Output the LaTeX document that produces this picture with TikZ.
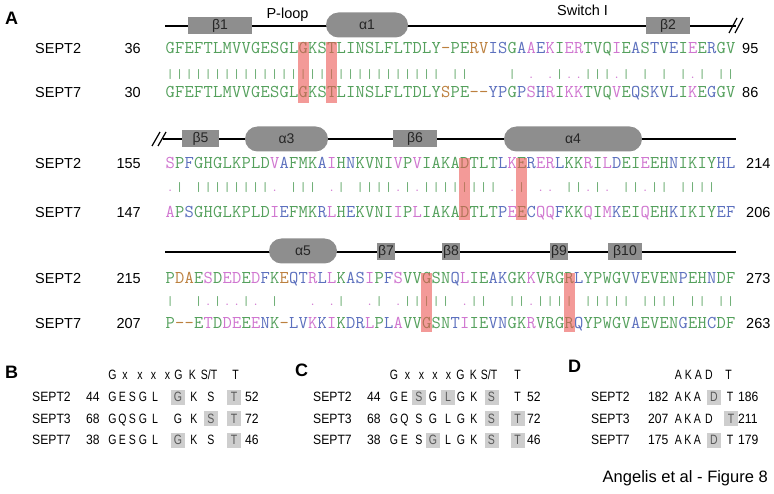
\documentclass[tikz,border=0pt]{standalone}
\usepackage{fontspec}
\usepackage{graphicx}
\setmainfont{Liberation Sans}
\definecolor{sqg}{RGB}{84,160,92}
\definecolor{sqb}{RGB}{92,112,190}
\definecolor{sqp}{RGB}{208,118,208}
\definecolor{sqo}{RGB}{188,128,62}
\definecolor{boxgray}{RGB}{142,142,142}
\definecolor{hlgray}{RGB}{206,206,206}
\definecolor{hlred}{RGB}{236,88,84}
\newlength\SQpitch
\setlength\SQpitch{9.5pt}
\newcommand\SQfont{\ttfamily\fontsize{18}{18}\selectfont}
\newcommand\MQfont{\ttfamily\fontsize{13}{13}\selectfont}
\newcommand\nar[1]{\scalebox{0.78}[1]{#1}}
\newcommand\narl[1]{\scalebox{0.9}[1]{#1}}
\def\SQrow#1#2{\SQstep#1\SQend#2\SQend}
\def\SQstep#1#2\SQend#3#4\SQend{\makebox[\SQpitch][c]{\textcolor{sq#1}{#3}}\ifx\relax#2\relax\else\SQstep#2\SQend#4\SQend\fi}
\def\MQrow#1{\MQstep#1\SQend}
\def\MQstep#1#2\SQend{\makebox[\SQpitch][c]{\csname mq#1\endcsname}\ifx\relax#2\relax\else\MQstep#2\SQend\fi}
\def\mqg{\textcolor{sqg}{|}}
\def\mqp{\textcolor{sqp}{.}}
\def\mqb{}
\def\mqo{}
\newcommand\PRow[3]{\foreach \x/\c/\h [count=\k] in {#3} {\ifnum\h=1 \fill[hlgray] ({\x-7},{#2-7.5}) rectangle ({\x+7},{#2+7.5});\fi
  \node[sm, hl\h, name=#1\k] at (\x,{#2+4.8}) {\nar{\c}};}}
\begin{document}
\begin{tikzpicture}[x=1pt,y=-1pt,
  lbl/.style={font=\fontsize{14.5}{16}\selectfont, inner sep=0},
  sm/.style={font=\fontsize{13.5}{15}\selectfont, inner sep=0, anchor=base},
  plab/.style={font=\fontsize{18}{20}\selectfont\bfseries, inner sep=0, anchor=base west},
  sline/.style={line width=1.2pt, black},
  bbox/.style={fill=boxgray, inner sep=0, minimum height=17pt, font=\fontsize{14}{16}\selectfont, text=black!85},
  abox/.style={fill=boxgray, inner sep=0, minimum height=25pt, rounded corners=12.5pt, font=\fontsize{14}{16}\selectfont, text=black!85},
  seqrow/.style={inner sep=0, anchor=base west, font=\SQfont},
  matrow/.style={inner sep=0, anchor=base west, font=\MQfont},
  redhl/.style={fill=hlred, opacity=0.6},
  hl0/.style={},
  hl1/.style={text=black!65},
]
\useasboundingbox (0,0) rectangle (774,494);
\fill[white] (0,0) rectangle (774,494);

% ---------- panel labels
\node[plab] (pA) at (5,25) {A};
\node[plab] (pB) at (5,378) {B};
\node[plab] (pC) at (295,377) {C};
\node[plab] (pD) at (568,373) {D};

% ---------- structure row 1
\coordinate (a1s) at (165,26); \coordinate (a1e) at (736,26);
\draw[sline] (a1s) -- (a1e);
\coordinate (k1a) at (729,33); \coordinate (k1b) at (737,18);
\coordinate (k1c) at (735,33); \coordinate (k1d) at (743,18);
\draw[sline] (k1a) -- (k1b); \draw[sline] (k1c) -- (k1d);
\node[bbox, minimum width=64pt] (b1) at (220,25.5) {β1};
\node[abox, minimum width=82pt] (h1) at (367,25) {α1};
\node[bbox, minimum width=44pt] (b2) at (668,25.5) {β2};
\node[lbl, anchor=base] (ploop) at (287.5,19) {P-loop};
\node[lbl, anchor=base] (sw1) at (582.5,16) {Switch I};

% ---------- structure row 2
\coordinate (a2s) at (163,139); \coordinate (a2e) at (736,139);
\draw[sline] (a2s) -- (a2e);
\coordinate (k2a) at (152,146); \coordinate (k2b) at (160,132);
\coordinate (k2c) at (158,146); \coordinate (k2d) at (166,132);
\draw[sline] (k2a) -- (k2b); \draw[sline] (k2c) -- (k2d);
\node[bbox, minimum width=37pt] (b5) at (200.5,138.5) {β5};
\node[abox, minimum width=83pt] (h3) at (286.5,139) {α3};
\node[bbox, minimum width=44pt] (b6) at (415,138.5) {β6};
\node[abox, minimum width=138pt] (h4) at (573,139) {α4};

% ---------- structure row 3
\coordinate (a3s) at (165,252); \coordinate (a3e) at (736,252);
\draw[sline] (a3s) -- (a3e);
\node[abox, minimum width=68pt] (h5) at (303,251) {α5};
\node[bbox, minimum width=18pt] (b7) at (386,251.5) {β7};
\node[bbox, minimum width=18pt] (b8) at (451,251.5) {β8};
\node[bbox, minimum width=18pt] (b9) at (559,251.5) {β9};
\node[bbox, minimum width=34pt] (b10) at (625,251.5) {β10};

% ---------- alignment row 1
\node[lbl, anchor=base west] (n1a) at (35,54) {SEPT2};
\node[lbl, anchor=base east] (l1a) at (141,54) {36};
\node[lbl, anchor=base west] (r1a) at (742,54) {95};
\node[lbl, anchor=base west] (n1b) at (35,98) {SEPT7};
\node[lbl, anchor=base east] (l1b) at (141,98) {30};
\node[lbl, anchor=base west] (r1b) at (742,98) {86};
\node[seqrow] (s1a) at (165.25,54) {\SQrow{gggggggggg gggggggggg gggggggggo ggoobbgbpb pgppgggpgb gbgbgpgbgg}{GFEFTLMVVG ESGLGKSTLI NSLFLTDLY- PERVISGAAE KIERTVQIEA STVEIEERGV}};
\node[matrow] (m1) at (165.25,79) {\MQrow{gggggggggg gggggggggg gggggggggo ggoobbgbpb pgppgggpgb gbgbgpgbgg}};
\node[seqrow] (s1b) at (165.25,98) {\SQrow{gggggggggg gggggggggg gggggggggo ggoobbgbpb pgppgggpgb gbgbgpgbgg}{GFEFTLMVVG ESGLGKSTLI NSLFLTDLYS PE--YPGPSH RIKKTVQVEQ SKVLIKEGGV}};

% ---------- alignment row 2
\node[lbl, anchor=base west] (n2a) at (35,169) {SEPT2};
\node[lbl, anchor=base east] (l2a) at (141,169) {155};
\node[lbl, anchor=base west] (r2a) at (746,169) {214};
\node[lbl, anchor=base west] (n2b) at (35,217.5) {SEPT7};
\node[lbl, anchor=base east] (l2b) at (141,217.5) {147};
\node[lbl, anchor=base west] (r2b) at (746,217.5) {206};
\node[seqrow] (s2a) at (165.25,169) {\SQrow{pgbggggggg gpbgggbpgb ggggpgpggg gggggbpgbp pbggpgpbgg pggbggggbb}{SPFGHGLKPL DVAFMKAIHN KVNIVPVIAK ADTLTLKERE RLKKRILDEI EEHNIKIYHL}};
\node[matrow] (m2) at (165.25,192) {\MQrow{pgbggggggg gpbgggbpgb ggggpgpggg gggggbpgbp pbggpgpbgg pggbggggbb}};
\node[seqrow] (s2b) at (165.25,217.5) {\SQrow{pgbggggggg gpbgggbpgb ggggpgpggg gggggbpgbp pbggpgpbgg pggbggggbb}{APSGHGLKPL DIEFMKRLHE KVNIIPLIAK ADTLTPEECQ QFKKQIMKEI QEHKIKIYEF}};

% ---------- alignment row 3
\node[lbl, anchor=base west] (n3a) at (35,283.5) {SEPT2};
\node[lbl, anchor=base east] (l3a) at (141,283.5) {215};
\node[lbl, anchor=base west] (r3a) at (746,283.5) {273};
\node[lbl, anchor=base west] (n3b) at (35,329) {SEPT7};
\node[lbl, anchor=base east] (l3b) at (141,329) {207};
\node[lbl, anchor=base west] (r3b) at (746,329) {263};
\node[seqrow] (s3a) at (165.25,283.5) {\SQrow{googpgppgp bgobbpbpgb bpgbpggggg bpggbbggpg gggbgggggb ggggbggbgg}{PDAESDEDED FKEQTRLLKA SIPFSVVGSN QLIEAKGKKV RGRLYPWGVV EVENPEHNDF}};
\node[matrow] (m3) at (165.25,306) {\MQrow{googpgppgp bgobbpbpgb bpgbpggggg bpggbbggpg gggbgggggb ggggbggbgg}};
\node[seqrow] (s3b) at (165.25,329) {\SQrow{googpgppgp bgobbpbpgb bpgbpggggg bpggbbggpg gggbgggggb ggggbggbgg}{P--ETDDEEE NK-LVKKIKD RLPLAVVGSN TIIEVNGKRV RGRQYPWGVA EVENGEHCDF}};

% ---------- red highlights
\foreach \i/\t/\b in {15/42/103, 18/42/103, 32/158/220, 38/158/220, 28/273/332, 43/273/332}
  \fill[redhl] ({170+(\i-1)*9.5-5.5},\t) rectangle ({170+(\i-1)*9.5+5.5},\b);

% ---------- panel B
\foreach \x/\c [count=\k] in {112.5/G,125/x,140/x,153.5/x,167.5/x,178.5/G,192.5/K,235.5/T}
  \node[sm, name=hB\k] at (\x,380) {\nar{\c}};
\node[sm] (hBst) at (209,380) {\nar{S/T}};
\node[sm, anchor=base west] (B1n) at (32,401.8) {\narl{SEPT2}};
\node[sm, anchor=base west] (B2n) at (32,423.3) {\narl{SEPT3}};
\node[sm, anchor=base west] (B3n) at (32,444.8) {\narl{SEPT7}};
\node[sm, anchor=base west] (B1l) at (86,401.8) {\narl{44}};
\node[sm, anchor=base west] (B2l) at (86,423.3) {\narl{68}};
\node[sm, anchor=base west] (B3l) at (86,444.8) {\narl{38}};
\node[sm, anchor=base west] (B1r) at (245,401.8) {\narl{52}};
\node[sm, anchor=base west] (B2r) at (245,423.3) {\narl{72}};
\node[sm, anchor=base west] (B3r) at (245,444.8) {\narl{46}};
\PRow{Ba}{397}{112.5/G/0,122.5/E/0,132.5/S/0,143/G/0,155/L/0,178/G/1,194/K/0,211/S/0,234/T/1}
\PRow{Bb}{418.5}{112.5/G/0,122.5/Q/0,132.5/S/0,143/G/0,155/L/0,178/G/0,194/K/0,211/S/1,234/T/1}
\PRow{Bc}{440}{112.5/G/0,122.5/E/0,132.5/S/0,143/G/0,155/L/0,178/G/1,194/K/0,211/S/0,234/T/1}

% ---------- panel C
\foreach \x/\c [count=\k] in {394/G,407.5/x,421.5/x,435/x,448.5/x,460.5/G,473.5/K,517.5/T}
  \node[sm, name=hC\k] at (\x,380) {\nar{\c}};
\node[sm] (hCst) at (489,380) {\nar{S/T}};
\node[sm, anchor=base west] (C1n) at (313,401.8) {\narl{SEPT2}};
\node[sm, anchor=base west] (C2n) at (313,423.3) {\narl{SEPT3}};
\node[sm, anchor=base west] (C3n) at (313,444.8) {\narl{SEPT7}};
\node[sm, anchor=base west] (C1l) at (367,401.8) {\narl{44}};
\node[sm, anchor=base west] (C2l) at (367,423.3) {\narl{68}};
\node[sm, anchor=base west] (C3l) at (367,444.8) {\narl{38}};
\node[sm, anchor=base west] (C1r) at (527,401.8) {\narl{52}};
\node[sm, anchor=base west] (C2r) at (527,423.3) {\narl{72}};
\node[sm, anchor=base west] (C3r) at (527,444.8) {\narl{46}};
\PRow{Ca}{397}{394/G/0,404.5/E/0,419/S/1,433/G/0,448/L/1,461/G/0,474/K/0,491.5/S/1,517.5/T/0}
\PRow{Cb}{418.5}{394/G/0,404.5/Q/0,419/S/0,433/G/0,448/L/0,461/G/0,474/K/0,491.5/S/1,517.5/T/1}
\PRow{Cc}{440}{394/G/0,404.5/E/0,419/S/0,433/G/1,448/L/0,461/G/0,474/K/0,491.5/S/1,517.5/T/1}

% ---------- panel D
\foreach \x/\c [count=\k] in {678.5/A,688.5/K,698.5/A,709/D,728.5/T}
  \node[sm, name=hD\k] at (\x,379) {\nar{\c}};
\node[sm, anchor=base west] (D1n) at (591,401.8) {\narl{SEPT2}};
\node[sm, anchor=base west] (D2n) at (591,423.3) {\narl{SEPT3}};
\node[sm, anchor=base west] (D3n) at (591,444.8) {\narl{SEPT7}};
\node[sm, anchor=base west] (D1l) at (648,401.8) {\narl{182}};
\node[sm, anchor=base west] (D2l) at (648,423.3) {\narl{207}};
\node[sm, anchor=base west] (D3l) at (648,444.8) {\narl{175}};
\node[sm, anchor=base west] (D1r) at (738,401.8) {\narl{186}};
\node[sm, anchor=base west] (D2r) at (738,423.3) {\narl{211}};
\node[sm, anchor=base west] (D3r) at (738,444.8) {\narl{179}};
\PRow{Da}{397}{678.5/A/0,688/K/0,697.5/A/0,714/D/1,730/T/0}
\PRow{Db}{418.5}{678.5/A/0,688/K/0,697.5/A/0,709/D/0,731/T/1}
\PRow{Dc}{440}{678.5/A/0,688/K/0,697.5/A/0,714/D/1,730/T/0}

% ---------- caption
\node[inner sep=0, anchor=base east, font=\fontsize{16.5}{18}\selectfont] (cap) at (768,482) {Angelis et al - Figure 8};
\end{tikzpicture}
\end{document}
